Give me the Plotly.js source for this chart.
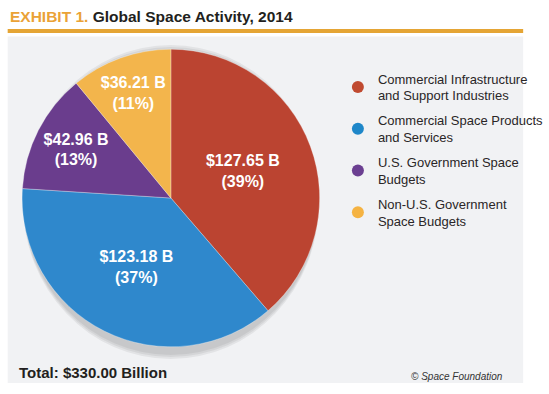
<!DOCTYPE html>
<html>
<head>
<meta charset="utf-8">
<script src="https://cdn.plot.ly/plotly-3.0.1.min.js"></script>
<style>html,body{margin:0;padding:0;background:#fff;}#chart{width:549px;height:394px;}</style>
</head>
<body>
<div id="chart"></div>
<script>
const categories = [
  "Commercial Infrastructure<br>and Support Industries",
  "Commercial Space Products<br>and Services",
  "U.S. Government Space<br>Budgets",
  "Non-U.S. Government<br>Space Budgets"
];
const values = [127.65, 123.18, 42.96, 36.21];
const sliceColors = ["#bb4431", "#2f88cc", "#6a3d8d", "#f3b54c"];
const legendColors = ["#c04a30", "#1e87c9", "#6b3f91", "#f5b342"];
const titleLead = "EXHIBIT 1.";
const titleRest = " Global Space Activity, 2014";
const totalLabel = "Total: $330.00 Billion";
const creditLabel = "© Space Foundation";

const W = 549, H = 394;
const px = v => v / W;
const py = v => 1 - v / H;
const FONT = "Liberation Sans, Arial, sans-serif";

const traces = [{
  type: "pie",
  values: values,
  labels: categories,
  sort: false,
  direction: "clockwise",
  rotation: 0,
  marker: {colors: sliceColors, line: {color: "rgba(255,255,255,0.6)", width: 0.5}},
  texttemplate: "$%{value:.2f} B<br>(%{percent:.0%})",
  textposition: "inside",
  insidetextorientation: "horizontal",
  insidetextfont: {family: FONT, size: 16, color: "#ffffff", weight: "bold"},
  hoverinfo: "none",
  showlegend: false,
  domain: {x: [px(23), px(333)], y: [1 - 353 / H, 1 - 43 / H]}
}];

categories.forEach((c, i) => {
  traces.push({
    type: "scatter",
    mode: "markers",
    x: [null], y: [null],
    name: c,
    legendgroup: "g" + i,
    marker: {color: legendColors[i], size: 12, symbol: "circle"},
    hoverinfo: "none"
  });
});

const shadows = [6, 4, 2].map(d => ({
  type: "circle", xref: "paper", yref: "paper",
  x0: px(23 + 1), x1: px(333 - 1), y0: py(353 + d), y1: py(43 + d),
  fillcolor: "rgba(0,0,0,0.06)", line: {width: 0}, layer: "below"
}));

const layout = {
  width: W, height: H,
  margin: {l: 0, r: 0, t: 0, b: 0},
  paper_bgcolor: "#ffffff",
  plot_bgcolor: "rgba(0,0,0,0)",
  xaxis: {visible: false, range: [0, 1], fixedrange: true},
  yaxis: {visible: false, range: [0, 1], fixedrange: true},
  showlegend: true,
  legend: {
    x: px(352), y: py(63.5), xanchor: "left", yanchor: "top",
    bgcolor: "rgba(0,0,0,0)",
    font: {family: FONT, size: 13, color: "#2a2627"},
    tracegroupgap: 5,
    itemclick: false, itemdoubleclick: false
  },
  shapes: [
    {type: "rect", xref: "paper", yref: "paper", x0: px(8), x1: px(545), y0: py(383), y1: py(36.5),
     fillcolor: "#f1f2f4", line: {width: 0}, layer: "below"},
    {type: "rect", xref: "paper", yref: "paper", x0: px(8), x1: px(545), y0: py(33), y1: py(29),
     fillcolor: "#e5a535", line: {width: 0}, layer: "below"}
  ].concat(shadows),
  annotations: [
    {xref: "paper", yref: "paper", x: px(8), y: py(17), xanchor: "left", yanchor: "middle", showarrow: false,
     text: "<span style='color:#eaa236'>" + titleLead + "</span>" + titleRest,
     font: {family: FONT, size: 15.5, color: "#231f20", weight: "bold"}},
    {xref: "paper", yref: "paper", x: px(18), y: py(372), xanchor: "left", yanchor: "middle", showarrow: false,
     text: totalLabel, font: {family: FONT, size: 15, color: "#231f20", weight: "bold"}},
    {xref: "paper", yref: "paper", x: px(526), y: py(376), xanchor: "right", yanchor: "middle", showarrow: false,
     text: "<i>" + creditLabel + "</i>", font: {family: FONT, size: 10, color: "#333333"}}
  ]
};

Plotly.newPlot("chart", traces, layout, {displayModeBar: false, staticPlot: true});
</script>
</body>
</html>
